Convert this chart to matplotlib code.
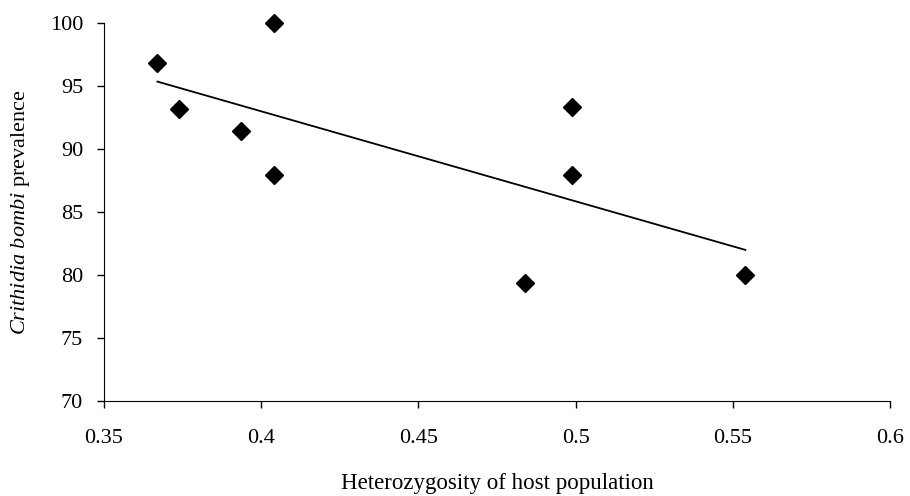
import numpy as np
import matplotlib.pyplot as plt

plt.rcParams['font.family'] = 'Liberation Serif'
plt.rcParams['mathtext.fontset'] = 'custom'
plt.rcParams['mathtext.rm'] = 'Liberation Serif'
plt.rcParams['mathtext.it'] = 'Liberation Serif:italic'

# heterozygosity vs prevalence
heterozygosity = [0.367, 0.374, 0.3935, 0.404, 0.404, 0.499, 0.499, 0.484, 0.554]
prevalence = [96.8, 93.2, 91.4, 100.0, 87.9, 93.3, 87.9, 79.4, 80.0]

x_ticks = [0.35, 0.4, 0.45, 0.5, 0.55, 0.6]
x_tick_labels = ['0.35', '0.4', '0.45', '0.5', '0.55', '0.6']
y_ticks = [70, 75, 80, 85, 90, 95, 100]

fig = plt.figure(figsize=(9.1, 4.96), dpi=100)
ax = fig.add_axes([0.1143, 0.1915, 0.8637, 0.7621])

ax.plot(heterozygosity, prevalence, 'D', color='black', markersize=9.5, clip_on=False, zorder=3)

# linear trend line across the data range
slope, intercept = np.polyfit(heterozygosity, prevalence, 1)
xs = np.array([min(heterozygosity), max(heterozygosity)])
ax.plot(xs, slope * xs + intercept, color='black', linewidth=1.3)

ax.set_xlim(0.35, 0.6)
ax.set_ylim(70, 100)
ax.set_xticks(x_ticks)
ax.set_xticklabels(x_tick_labels)
ax.set_yticks(y_ticks)

ax.spines['top'].set_visible(False)
ax.spines['right'].set_visible(False)
ax.tick_params(direction='out', length=5, width=1, labelsize=16)
ax.tick_params(axis='y', pad=10)
ax.tick_params(axis='x', pad=15)

ax.set_xlabel('Heterozygosity of host population', fontsize=16.5, labelpad=18)
ax.set_ylabel(r'$\mathit{Crithidia\ bombi}$ prevalence', fontsize=16, labelpad=13)

fig.savefig('out.png', dpi=100)
